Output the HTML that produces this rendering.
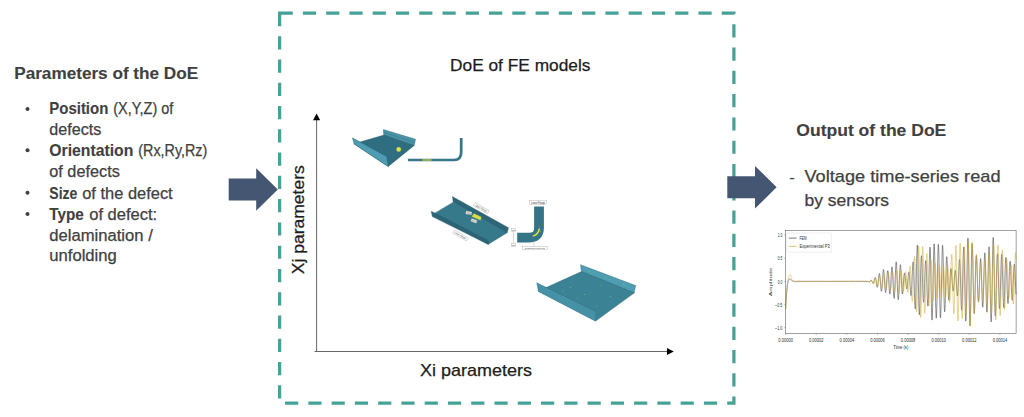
<!DOCTYPE html>
<html><head><meta charset="utf-8"><title>DoE of FE models</title>
<style>
html,body{margin:0;padding:0;background:#fff;}
body{width:1024px;height:417px;overflow:hidden;font-family:"Liberation Sans",sans-serif;}
svg{display:block}
text{font-family:"Liberation Sans",sans-serif;}
.t{fill:#404040}
.b{font-weight:bold}
</style></head><body>
<svg width="1024" height="417" viewBox="0 0 1024 417">
<rect width="1024" height="417" fill="#fff"/>
<path d="M279.6,13.2 H733.9 V403.1 H279.6 Z" fill="none" stroke="#45a395" stroke-width="3.25" stroke-dasharray="13.2 10.07"/>
<polygon points="228.7,178.4 256.2,178.4 256.2,168.2 277.8,189.5 256.2,210.8 256.2,200.5 228.7,200.5" fill="#455672"/>
<polygon points="727.3,176.2 755,176.2 755,165.9 776.6,187.25 755,208.6 755,198.3 727.3,198.3" fill="#455672"/>
<g stroke="#555" stroke-width="0.9" fill="none"><path d="M316.6,119 V351.5"/><path d="M314.5,351.5 H668"/></g>
<polygon points="316.6,113.4 313,120.2 320.2,120.2" fill="#000"/>
<polygon points="673.8,351.5 667,348 667,355" fill="#000"/>
<text x="14.2" y="79.0" font-size="17.4" fill="#404040" stroke="#404040" stroke-width="0.1" font-weight="bold" textLength="184" lengthAdjust="spacingAndGlyphs">Parameters of the DoE</text>
<text x="49.3" y="114.3" font-size="16.3" fill="#404040" stroke="#404040" stroke-width="0.1" font-weight="bold" textLength="59" lengthAdjust="spacingAndGlyphs">Position</text>
<text x="113.3" y="114.3" font-size="16.3" fill="#404040" stroke="#404040" stroke-width="0.25" textLength="60" lengthAdjust="spacingAndGlyphs">(X,Y,Z) of</text>
<text x="49.3" y="134.8" font-size="16.3" fill="#404040" stroke="#404040" stroke-width="0.25" textLength="52" lengthAdjust="spacingAndGlyphs">defects</text>
<text x="49.3" y="155.7" font-size="16.3" fill="#404040" stroke="#404040" stroke-width="0.1" font-weight="bold" textLength="84" lengthAdjust="spacingAndGlyphs">Orientation</text>
<text x="138.3" y="155.7" font-size="16.3" fill="#404040" stroke="#404040" stroke-width="0.25" textLength="69" lengthAdjust="spacingAndGlyphs">(Rx,Ry,Rz)</text>
<text x="49.3" y="176.7" font-size="16.3" fill="#404040" stroke="#404040" stroke-width="0.25" textLength="70.5" lengthAdjust="spacingAndGlyphs">of defects</text>
<text x="49.3" y="198.6" font-size="16.3" fill="#404040" stroke="#404040" stroke-width="0.1" font-weight="bold" textLength="28" lengthAdjust="spacingAndGlyphs">Size</text>
<text x="82.2" y="198.6" font-size="16.3" fill="#404040" stroke="#404040" stroke-width="0.25" textLength="90.5" lengthAdjust="spacingAndGlyphs">of the defect</text>
<text x="49.3" y="219.5" font-size="16.3" fill="#404040" stroke="#404040" stroke-width="0.1" font-weight="bold" textLength="34.5" lengthAdjust="spacingAndGlyphs">Type</text>
<text x="89.2" y="219.5" font-size="16.3" fill="#404040" stroke="#404040" stroke-width="0.25" textLength="68" lengthAdjust="spacingAndGlyphs">of defect:</text>
<text x="49.3" y="240.5" font-size="16.3" fill="#404040" stroke="#404040" stroke-width="0.25" textLength="103.5" lengthAdjust="spacingAndGlyphs">delamination /</text>
<text x="49.3" y="261" font-size="16.3" fill="#404040" stroke="#404040" stroke-width="0.25" textLength="67.5" lengthAdjust="spacingAndGlyphs">unfolding</text>
<circle cx="27.5" cy="108.9" r="2" fill="#404040"/>
<circle cx="27.5" cy="150.3" r="2" fill="#404040"/>
<circle cx="27.5" cy="192.7" r="2" fill="#404040"/>
<circle cx="27.5" cy="214" r="2" fill="#404040"/>
<text x="450" y="71.2" font-size="16.6" fill="#1c1c1c" stroke="#1c1c1c" stroke-width="0.25" textLength="140.5" lengthAdjust="spacingAndGlyphs">DoE of FE models</text>
<text x="420" y="375.8" font-size="16.6" fill="#1c1c1c" stroke="#1c1c1c" stroke-width="0.25" textLength="112" lengthAdjust="spacingAndGlyphs">Xi parameters</text>
<text x="0" y="0" font-size="16.6" fill="#1c1c1c" stroke="#1c1c1c" stroke-width="0.25" textLength="109" lengthAdjust="spacingAndGlyphs" transform="translate(303.5,274.2) rotate(-90)">Xj parameters</text>
<text x="796.3" y="135.5" font-size="17.2" fill="#404040" stroke="#404040" stroke-width="0.1" font-weight="bold" textLength="150" lengthAdjust="spacingAndGlyphs">Output of the DoE</text>
<text x="789.2" y="182.5" font-size="17" fill="#404040">-</text>
<text x="804.5" y="182.2" font-size="17" fill="#404040" stroke="#404040" stroke-width="0.25" textLength="196" lengthAdjust="spacingAndGlyphs">Voltage time-series read</text>
<text x="804.5" y="206.2" font-size="17" fill="#404040" stroke="#404040" stroke-width="0.25" textLength="84.5" lengthAdjust="spacingAndGlyphs">by sensors</text>
<g stroke="#245a6b" stroke-width="0.4" stroke-linejoin="round"><polygon points="383.3,129.5 383.9,135.2 414.2,145.6 415.5,139.2" fill="#4a94a9"/><polygon points="354,143.8 383.9,135 414.2,145.5 388.3,166.4" fill="#2e6e80"/><polygon points="352.4,137.8 354.1,143.9 386,165.2 388.3,166.4 386.8,156.6" fill="#4e9cb2"/></g>
<path d="M383.6,132.3 L414.9,142.6" stroke="#3f8397" stroke-width="1" fill="none"/>
<circle cx="398.7" cy="149.4" r="2.3" fill="#e2de48"/>
<path d="M408.0,160.0 H454.2 Q461.2,160.0 461.2,152.0 V138.0" fill="none" stroke="#357688" stroke-width="2.7"/>
<path d="M422.3,160.0 H431.5" stroke="#d8d24a" stroke-width="1.2"/>
<g stroke="#24586a" stroke-width="0.35" stroke-linejoin="round"><polygon points="452.4,196.5 508.5,227.7 507.1,233.1 453.2,202.2" fill="#2c6677"/><polygon points="432.6,214.4 453.2,202.2 507.1,232.8 488.4,244.3" fill="#36798b"/><polygon points="431.2,211.3 488.4,240.6 488.4,244.6 432.3,216.6" fill="#2b6475"/></g>
<polygon points="474,213.6 481.3,216.9 480.5,220.2 471.8,216.4" fill="#dedc48" stroke="#b9b83a" stroke-width="0.2"/>
<g transform="translate(481.2,208.1) rotate(30)"><rect x="-8.0" y="-1.8" width="16" height="3.6" fill="#fff" stroke="#888" stroke-width="0.3"/><text x="0" y="0.94" font-size="2.6" text-anchor="middle" fill="#333" textLength="12.8" lengthAdjust="spacingAndGlyphs">Upper Flange</text></g>
<g transform="translate(460.5,235.4) rotate(30)"><rect x="-8.0" y="-1.8" width="16" height="3.6" fill="#fff" stroke="#888" stroke-width="0.3"/><text x="0" y="0.94" font-size="2.6" text-anchor="middle" fill="#333" textLength="12.8" lengthAdjust="spacingAndGlyphs">Lower Flange</text></g>
<g transform="translate(468.8,212.9) rotate(8)"><rect x="-2.9" y="-1.4" width="5.8" height="2.9" fill="#fff" stroke="#888" stroke-width="0.3"/><text x="0" y="0.83" font-size="2.3" text-anchor="middle" fill="#333" textLength="4.6" lengthAdjust="spacingAndGlyphs">Web</text></g>
<g transform="translate(474.0,220.9) rotate(20)"><rect x="-2.9" y="-1.4" width="5.8" height="2.9" fill="#fff" stroke="#888" stroke-width="0.3"/><text x="0" y="0.83" font-size="2.3" text-anchor="middle" fill="#333" textLength="4.6" lengthAdjust="spacingAndGlyphs">Web</text></g>
<path d="M539.0,206.4 V228.0 Q539.0,237.7 528.7,237.7 H517.2" fill="none" stroke="#347486" stroke-width="9.8"/>
<path d="M539.2,229.1 Q538.4,234.0 533.5,235.9" fill="none" stroke="#e3e044" stroke-width="1.5" stroke-linecap="round"/>
<circle cx="539.5" cy="226.5" r="0.35" fill="#e3e044"/><circle cx="540.4" cy="231.1" r="0.4" fill="#e3e044"/>
<g transform="translate(538.1,202.6) rotate(0)"><rect x="-8.6" y="-2.2" width="17.2" height="4.4" fill="#fff" stroke="#888" stroke-width="0.3"/><text x="0" y="0.97" font-size="2.7" text-anchor="middle" fill="#333" textLength="13.8" lengthAdjust="spacingAndGlyphs">Lower Flange</text></g>
<g transform="translate(513.6,230.1) rotate(0)"><rect x="-2.2" y="-1.5" width="4.4" height="3" fill="#fff" stroke="#888" stroke-width="0.3"/><text x="0" y="0.76" font-size="2.1" text-anchor="middle" fill="#333" textLength="3.5" lengthAdjust="spacingAndGlyphs">Web</text></g>
<g transform="translate(513.6,245.1) rotate(0)"><rect x="-2.2" y="-1.5" width="4.4" height="3" fill="#fff" stroke="#888" stroke-width="0.3"/><text x="0" y="0.76" font-size="2.1" text-anchor="middle" fill="#333" textLength="3.5" lengthAdjust="spacingAndGlyphs">Web</text></g>
<g transform="translate(534.9,248.0) rotate(0)"><rect x="-12.5" y="-1.6" width="25" height="3.2" fill="#fff" stroke="#888" stroke-width="0.3"/><text x="0" y="0.76" font-size="2.1" text-anchor="middle" fill="#333" textLength="20.0" lengthAdjust="spacingAndGlyphs">Delamination length in mm</text></g>
<path d="M513.6,231.7 V243.5" stroke="#777" stroke-width="0.3"/>
<path d="M533.8,242.6 V246.4" stroke="#777" stroke-width="0.3"/>
<g stroke="#2c6678" stroke-width="0.4" stroke-linejoin="round"><polygon points="580.5,264.7 581.5,272.0 634.0,293.2 635.7,285.6" fill="#4e9db0"/><polygon points="538.4,291.0 581.5,271.6 634.4,292.8 596.0,320.8" fill="#3b8295"/><polygon points="536.8,282.8 538.4,291.5 595.6,321.3 596.0,311.5" fill="#4592a6"/></g>
<circle cx="589.1" cy="271.2" r="0.45" fill="#cfd27a"/><circle cx="605.3" cy="277.6" r="0.45" fill="#cfd27a"/><circle cx="623.2" cy="284.1" r="0.45" fill="#cfd27a"/><circle cx="570.7" cy="287.8" r="0.45" fill="#cfd27a"/><circle cx="584.8" cy="294.3" r="0.45" fill="#cfd27a"/><circle cx="601.0" cy="285.6" r="0.45" fill="#cfd27a"/><circle cx="610.7" cy="296.4" r="0.45" fill="#cfd27a"/><circle cx="596.7" cy="306.6" r="0.45" fill="#cfd27a"/><circle cx="577.2" cy="297.9" r="0.45" fill="#cfd27a"/><circle cx="563.2" cy="291.0" r="0.45" fill="#cfd27a"/>
<rect x="785.6" y="230.4" width="230.5" height="103.3" fill="#fff" stroke="#555" stroke-width="0.55"/>
<path d="M785.6,333.7 v1.3 M816.2,333.7 v1.3 M846.8,333.7 v1.3 M877.5,333.7 v1.3 M908.1,333.7 v1.3 M938.7,333.7 v1.3 M969.3,333.7 v1.3 M999.9,333.7 v1.3 M785.6,235.1 h-1.3 M785.6,258.3 h-1.3 M785.6,281.4 h-1.3 M785.6,304.5 h-1.3 M785.6,327.6 h-1.3" stroke="#444" stroke-width="0.35" fill="none"/>
<g><text x="778.30" y="341.70" font-size="6.0" fill="#2e2e2e" textLength="14.6" lengthAdjust="spacingAndGlyphs">0.00000</text><text x="808.92" y="341.70" font-size="6.0" fill="#2e2e2e" textLength="14.6" lengthAdjust="spacingAndGlyphs">0.00002</text><text x="839.54" y="341.70" font-size="6.0" fill="#2e2e2e" textLength="14.6" lengthAdjust="spacingAndGlyphs">0.00004</text><text x="870.16" y="341.70" font-size="6.0" fill="#2e2e2e" textLength="14.6" lengthAdjust="spacingAndGlyphs">0.00006</text><text x="900.78" y="341.70" font-size="6.0" fill="#2e2e2e" textLength="14.6" lengthAdjust="spacingAndGlyphs">0.00008</text><text x="931.40" y="341.70" font-size="6.0" fill="#2e2e2e" textLength="14.6" lengthAdjust="spacingAndGlyphs">0.00010</text><text x="962.02" y="341.70" font-size="6.0" fill="#2e2e2e" textLength="14.6" lengthAdjust="spacingAndGlyphs">0.00012</text><text x="992.64" y="341.70" font-size="6.0" fill="#2e2e2e" textLength="14.6" lengthAdjust="spacingAndGlyphs">0.00014</text><text x="777.70" y="237.25" font-size="6.0" fill="#2e2e2e" textLength="4.6" lengthAdjust="spacingAndGlyphs">1.0</text><text x="777.70" y="260.38" font-size="6.0" fill="#2e2e2e" textLength="4.6" lengthAdjust="spacingAndGlyphs">0.5</text><text x="777.70" y="283.50" font-size="6.0" fill="#2e2e2e" textLength="4.6" lengthAdjust="spacingAndGlyphs">0.0</text><text x="775.10" y="306.62" font-size="6.0" fill="#2e2e2e" textLength="7.2" lengthAdjust="spacingAndGlyphs">−0.5</text><text x="775.10" y="329.75" font-size="6.0" fill="#2e2e2e" textLength="7.2" lengthAdjust="spacingAndGlyphs">−1.0</text><text x="893.30" y="349.20" font-size="6.0" fill="#2e2e2e" textLength="15" lengthAdjust="spacingAndGlyphs">Time (s)</text><text x="-14.1" y="0" font-size="5.6" fill="#2e2e2e" textLength="28.2" lengthAdjust="spacingAndGlyphs" transform="translate(772.1,281.9) scale(0.64,1) rotate(-90)">Amplitude</text></g>
<path d="M785.6,309.1 L785.8,305.7 L786.0,302.4 L786.2,299.2 L786.4,296.3 L786.6,293.6 L786.8,291.2 L787.0,289.1 L787.2,287.2 L787.4,285.5 L787.6,284.1 L787.8,282.9 L788.0,281.9 L788.2,281.1 L788.4,280.4 L788.6,279.9 L788.8,279.5 L789.0,279.2 L789.2,279.0 L789.4,278.9 L789.6,278.9 L789.8,278.9 L790.0,279.0 L790.2,279.1 L790.4,279.2 L790.6,279.4 L790.8,279.6 L791.0,279.8 L791.2,280.0 L791.4,280.1 L791.6,280.3 L791.8,280.5 L792.0,280.6 L792.2,280.8 L792.4,280.9 L792.6,281.0 L792.8,281.1 L793.0,281.2 L793.2,281.3 L793.4,281.3 L793.6,281.4 L793.8,281.4 L794.0,281.4 L794.2,281.4 L794.4,281.4 L794.6,281.4 L794.8,281.5 L795.0,281.5 L795.2,281.5 L795.4,281.5 L795.6,281.4 L795.8,281.4 L796.0,281.4 L796.2,281.4 L796.4,281.4 L796.6,281.4 L796.8,281.4 L797.0,281.4 L797.2,281.4 L797.4,281.4 L797.6,281.4 L797.8,281.4 L798.0,281.4 L798.2,281.4 L798.4,281.4 L798.6,281.4 L798.8,281.4 L799.0,281.4 L799.2,281.4 L799.4,281.4 L799.6,281.4 L799.8,281.4 L800.0,281.4 L800.2,281.4 L800.4,281.4 L800.6,281.4 L800.8,281.4 L801.0,281.4 L801.2,281.4 L801.4,281.4 L801.6,281.4 L801.8,281.4 L802.0,281.4 L802.2,281.4 L802.4,281.4 L802.6,281.4 L802.8,281.4 L803.0,281.4 L803.2,281.4 L803.4,281.4 L803.6,281.4 L803.8,281.4 L804.0,281.4 L804.2,281.4 L804.4,281.4 L804.6,281.4 L804.8,281.4 L805.0,281.4 L805.2,281.4 L805.4,281.4 L805.6,281.4 L805.8,281.4 L806.0,281.4 L806.2,281.4 L806.4,281.4 L806.6,281.4 L806.8,281.4 L807.0,281.4 L807.2,281.4 L807.4,281.4 L807.6,281.4 L807.8,281.4 L808.0,281.4 L808.2,281.4 L808.4,281.4 L808.6,281.4 L808.8,281.4 L809.0,281.4 L809.2,281.4 L809.4,281.4 L809.6,281.4 L809.8,281.4 L810.0,281.4 L810.2,281.4 L810.4,281.4 L810.6,281.4 L810.8,281.4 L811.0,281.4 L811.2,281.4 L811.4,281.4 L811.6,281.4 L811.8,281.4 L812.0,281.4 L812.2,281.4 L812.4,281.4 L812.6,281.4 L812.8,281.4 L813.0,281.4 L813.2,281.4 L813.4,281.4 L813.6,281.4 L813.8,281.4 L814.0,281.4 L814.2,281.4 L814.4,281.4 L814.6,281.4 L814.8,281.4 L815.0,281.4 L815.2,281.4 L815.4,281.4 L815.6,281.4 L815.8,281.4 L816.0,281.4 L816.2,281.4 L816.4,281.4 L816.6,281.4 L816.8,281.4 L817.0,281.4 L817.2,281.4 L817.4,281.4 L817.6,281.4 L817.8,281.4 L818.0,281.4 L818.2,281.4 L818.4,281.4 L818.6,281.4 L818.8,281.4 L819.0,281.4 L819.2,281.4 L819.4,281.4 L819.6,281.4 L819.8,281.4 L820.0,281.4 L820.2,281.4 L820.4,281.4 L820.6,281.4 L820.8,281.4 L821.0,281.4 L821.2,281.4 L821.4,281.4 L821.6,281.4 L821.8,281.4 L822.0,281.4 L822.2,281.4 L822.4,281.4 L822.6,281.4 L822.8,281.4 L823.0,281.4 L823.2,281.4 L823.4,281.4 L823.6,281.4 L823.8,281.4 L824.0,281.4 L824.2,281.4 L824.4,281.4 L824.6,281.4 L824.8,281.4 L825.0,281.4 L825.2,281.4 L825.4,281.4 L825.6,281.4 L825.8,281.4 L826.0,281.4 L826.2,281.4 L826.4,281.4 L826.6,281.4 L826.8,281.4 L827.0,281.4 L827.2,281.4 L827.4,281.4 L827.6,281.4 L827.8,281.4 L828.0,281.4 L828.2,281.4 L828.4,281.4 L828.6,281.4 L828.8,281.4 L829.0,281.4 L829.2,281.4 L829.4,281.4 L829.6,281.4 L829.8,281.4 L830.0,281.4 L830.2,281.4 L830.4,281.4 L830.6,281.4 L830.8,281.4 L831.0,281.4 L831.2,281.4 L831.4,281.4 L831.6,281.4 L831.8,281.4 L832.0,281.4 L832.2,281.4 L832.4,281.4 L832.6,281.4 L832.8,281.4 L833.0,281.4 L833.2,281.4 L833.4,281.4 L833.6,281.4 L833.8,281.4 L834.0,281.4 L834.2,281.4 L834.4,281.4 L834.6,281.4 L834.8,281.4 L835.0,281.4 L835.2,281.4 L835.4,281.4 L835.6,281.4 L835.8,281.4 L836.0,281.4 L836.2,281.4 L836.4,281.4 L836.6,281.4 L836.8,281.4 L837.0,281.4 L837.2,281.4 L837.4,281.4 L837.6,281.4 L837.8,281.4 L838.0,281.4 L838.2,281.4 L838.4,281.4 L838.6,281.4 L838.8,281.4 L839.0,281.4 L839.2,281.4 L839.4,281.4 L839.6,281.4 L839.8,281.4 L840.0,281.4 L840.2,281.4 L840.4,281.4 L840.6,281.4 L840.8,281.4 L841.0,281.4 L841.2,281.4 L841.4,281.4 L841.6,281.4 L841.8,281.4 L842.0,281.4 L842.2,281.4 L842.4,281.4 L842.6,281.4 L842.8,281.4 L843.0,281.4 L843.2,281.4 L843.4,281.4 L843.6,281.4 L843.8,281.4 L844.0,281.4 L844.2,281.4 L844.4,281.4 L844.6,281.4 L844.8,281.4 L845.0,281.4 L845.2,281.4 L845.4,281.4 L845.6,281.4 L845.8,281.4 L846.0,281.4 L846.2,281.4 L846.4,281.4 L846.6,281.4 L846.8,281.4 L847.0,281.4 L847.2,281.4 L847.4,281.4 L847.6,281.4 L847.8,281.4 L848.0,281.4 L848.2,281.4 L848.4,281.4 L848.6,281.4 L848.8,281.4 L849.0,281.4 L849.2,281.4 L849.4,281.4 L849.6,281.4 L849.8,281.4 L850.0,281.4 L850.2,281.4 L850.4,281.4 L850.6,281.4 L850.8,281.4 L851.0,281.4 L851.2,281.4 L851.4,281.4 L851.6,281.4 L851.8,281.4 L852.0,281.4 L852.2,281.4 L852.4,281.4 L852.6,281.4 L852.8,281.4 L853.0,281.4 L853.2,281.4 L853.4,281.4 L853.6,281.4 L853.8,281.4 L854.0,281.4 L854.2,281.4 L854.4,281.4 L854.6,281.4 L854.8,281.4 L855.0,281.4 L855.2,281.4 L855.4,281.4 L855.6,281.4 L855.8,281.4 L856.0,281.4 L856.2,281.4 L856.4,281.4 L856.6,281.4 L856.8,281.4 L857.0,281.4 L857.2,281.4 L857.4,281.4 L857.6,281.4 L857.8,281.4 L858.0,281.4 L858.2,281.4 L858.4,281.4 L858.6,281.4 L858.8,281.4 L859.0,281.4 L859.2,281.4 L859.4,281.4 L859.6,281.4 L859.8,281.4 L860.0,281.4 L860.2,281.4 L860.4,281.4 L860.6,281.4 L860.8,281.4 L861.0,281.4 L861.2,281.4 L861.4,281.4 L861.6,281.4 L861.8,281.4 L862.0,281.4 L862.2,281.4 L862.4,281.4 L862.6,281.4 L862.8,281.4 L863.0,281.4 L863.2,281.4 L863.4,281.4 L863.6,281.4 L863.8,281.4 L864.0,281.4 L864.2,281.4 L864.4,281.4 L864.6,281.4 L864.8,281.4 L865.0,281.4 L865.2,281.4 L865.4,281.4 L865.6,281.4 L865.8,281.4 L866.0,281.4 L866.2,281.4 L866.4,281.4 L866.6,281.4 L866.8,281.4 L867.0,281.4 L867.2,281.4 L867.4,281.4 L867.6,281.4 L867.8,281.4 L868.0,281.4 L868.2,281.5 L868.4,281.5 L868.6,281.6 L868.8,281.7 L869.0,281.7 L869.2,281.7 L869.4,281.7 L869.6,281.6 L869.8,281.4 L870.0,281.2 L870.2,280.9 L870.4,280.7 L870.6,280.5 L870.8,280.4 L871.0,280.3 L871.2,280.4 L871.4,280.5 L871.6,280.8 L871.8,281.2 L872.0,281.6 L872.2,282.0 L872.4,282.5 L872.6,282.9 L872.8,283.1 L873.0,283.2 L873.2,283.3 L873.4,283.2 L873.6,282.8 L873.8,282.3 L874.0,281.5 L874.2,280.6 L874.4,279.7 L874.6,278.8 L874.8,278.1 L875.0,277.7 L875.2,277.5 L875.4,277.7 L875.6,278.3 L875.8,279.2 L876.0,280.5 L876.2,281.9 L876.4,283.4 L876.6,284.8 L876.8,286.0 L877.0,286.8 L877.2,287.3 L877.4,287.2 L877.6,286.5 L877.8,285.4 L878.0,283.8 L878.2,281.9 L878.4,279.8 L878.6,277.8 L878.8,276.0 L879.0,274.6 L879.2,273.7 L879.4,273.5 L879.6,274.0 L879.8,275.2 L880.0,277.1 L880.2,279.4 L880.4,282.0 L880.6,284.7 L880.8,287.2 L881.0,289.3 L881.2,290.7 L881.4,291.4 L881.6,291.2 L881.8,290.1 L882.0,288.2 L882.2,285.6 L882.4,282.5 L882.6,279.2 L882.8,275.9 L883.0,273.1 L883.2,270.9 L883.4,269.6 L883.6,269.5 L883.8,270.5 L884.0,272.5 L884.2,275.2 L884.4,278.4 L884.6,281.8 L884.8,285.2 L885.0,288.2 L885.2,290.6 L885.4,292.1 L885.6,292.7 L885.8,292.3 L886.0,290.9 L886.2,288.7 L886.4,285.9 L886.6,282.8 L886.8,279.5 L887.0,276.5 L887.2,273.9 L887.4,272.0 L887.6,271.0 L887.8,270.6 L888.0,271.2 L888.2,272.7 L888.4,275.1 L888.6,278.1 L888.8,281.5 L889.0,285.0 L889.2,288.3 L889.4,291.0 L889.6,293.0 L889.8,294.0 L890.0,293.9 L890.2,292.7 L890.4,290.4 L890.6,287.3 L890.8,283.5 L891.0,279.5 L891.2,275.5 L891.4,271.9 L891.6,269.1 L891.8,267.4 L892.0,266.8 L892.2,267.5 L892.4,269.5 L892.6,272.5 L892.8,276.5 L893.0,281.0 L893.2,285.8 L893.4,290.2 L893.6,294.0 L893.8,296.8 L894.0,298.3 L894.2,298.3 L894.4,296.8 L894.6,293.9 L894.8,289.8 L895.0,284.8 L895.2,279.3 L895.4,274.0 L895.6,269.1 L895.8,265.2 L896.0,262.7 L896.2,261.8 L896.4,262.6 L896.6,265.4 L896.8,269.6 L897.0,274.7 L897.2,280.4 L897.4,286.0 L897.6,291.2 L897.8,295.4 L898.0,298.3 L898.2,299.7 L898.4,299.5 L898.6,297.7 L898.8,294.4 L899.0,290.2 L899.2,285.2 L899.4,280.0 L899.6,275.0 L899.8,270.6 L900.0,267.3 L900.2,265.3 L900.4,264.7 L900.6,265.7 L900.8,268.1 L901.0,271.6 L901.2,275.8 L901.4,280.2 L901.6,284.5 L901.8,288.3 L902.0,291.3 L902.2,293.2 L902.4,294.0 L902.6,293.7 L902.8,292.3 L903.0,290.0 L903.2,287.2 L903.4,284.0 L903.6,280.9 L903.8,278.0 L904.0,275.7 L904.2,274.0 L904.4,273.1 L904.6,273.1 L904.8,273.8 L905.0,275.1 L905.2,276.8 L905.4,278.7 L905.6,280.7 L905.8,282.6 L906.0,284.6 L906.2,286.4 L906.4,287.7 L906.6,288.6 L906.8,288.9 L907.0,288.5 L907.2,287.4 L907.4,285.7 L907.6,283.6 L907.8,281.2 L908.0,278.7 L908.2,276.4 L908.4,274.4 L908.6,273.0 L908.8,272.3 L909.0,272.4 L909.2,273.0 L909.4,274.5 L909.6,276.8 L909.8,279.8 L910.0,283.2 L910.2,286.8 L910.4,290.2 L910.6,293.0 L910.8,294.9 L911.0,295.7 L911.2,295.3 L911.4,293.5 L911.6,290.4 L911.8,286.3 L912.0,281.5 L912.2,276.4 L912.4,271.4 L912.6,267.1 L912.8,263.8 L913.0,262.0 L913.2,261.8 L913.4,263.5 L913.6,266.8 L913.8,271.6 L914.0,277.6 L914.2,284.3 L914.4,291.4 L914.6,298.0 L914.8,303.4 L915.0,307.3 L915.2,308.9 L915.4,308.1 L915.6,304.8 L915.8,299.2 L916.0,291.6 L916.2,282.6 L916.4,273.0 L916.6,263.7 L916.8,255.5 L917.0,249.3 L917.2,245.7 L917.4,245.2 L917.6,248.0 L917.8,253.9 L918.0,263.0 L918.2,273.9 L918.4,285.0 L918.6,295.3 L918.8,304.1 L919.0,310.5 L919.2,314.1 L919.4,314.7 L919.6,312.4 L919.8,307.5 L920.0,300.5 L920.2,292.2 L920.4,283.4 L920.6,274.8 L920.8,267.2 L921.0,261.2 L921.2,257.3 L921.4,255.7 L921.6,256.4 L921.8,259.3 L922.0,263.9 L922.2,269.8 L922.4,276.3 L922.6,282.8 L922.8,288.8 L923.0,294.2 L923.2,298.5 L923.4,301.2 L923.6,302.2 L923.8,301.4 L924.0,298.8 L924.2,294.7 L924.4,289.4 L924.6,283.4 L924.8,277.2 L925.0,271.4 L925.2,266.5 L925.4,262.9 L925.6,260.9 L925.8,260.7 L926.0,262.4 L926.2,265.7 L926.4,270.4 L926.6,276.0 L926.8,282.2 L927.0,288.2 L927.2,294.2 L927.4,299.5 L927.6,303.6 L927.8,305.8 L928.0,305.9 L928.2,303.7 L928.4,299.3 L928.6,292.9 L928.8,285.1 L929.0,276.3 L929.2,267.5 L929.4,259.4 L929.6,252.9 L929.8,248.7 L930.0,247.2 L930.2,248.8 L930.4,253.4 L930.6,260.8 L930.8,270.5 L931.0,281.7 L931.2,293.2 L931.4,303.6 L931.6,312.0 L931.8,317.7 L932.0,320.1 L932.2,319.1 L932.4,314.9 L932.6,307.7 L932.8,298.2 L933.0,287.4 L933.2,276.0 L933.4,265.2 L933.6,255.9 L933.8,248.9 L934.0,244.8 L934.2,243.9 L934.4,246.3 L934.6,251.8 L934.8,259.8 L935.0,269.7 L935.2,280.6 L935.4,291.5 L935.6,301.5 L935.8,309.7 L936.0,315.5 L936.2,318.2 L936.4,317.7 L936.6,314.0 L936.8,307.5 L937.0,298.6 L937.2,288.2 L937.4,277.3 L937.6,266.7 L937.8,257.4 L938.0,250.2 L938.2,245.7 L938.4,244.4 L938.6,246.4 L938.8,251.4 L939.0,259.1 L939.2,268.7 L939.4,279.5 L939.6,290.4 L939.8,300.5 L940.0,308.9 L940.2,314.8 L940.4,317.8 L940.6,317.6 L940.8,314.2 L941.0,307.9 L941.2,299.3 L941.4,289.2 L941.6,278.4 L941.8,267.9 L942.0,258.7 L942.2,251.4 L942.4,246.8 L942.6,245.3 L942.8,247.2 L943.0,252.2 L943.2,259.7 L943.4,268.7 L943.6,278.7 L943.8,288.5 L944.0,297.4 L944.2,304.6 L944.4,309.5 L944.6,311.8 L944.8,311.4 L945.0,308.4 L945.2,303.2 L945.4,296.2 L945.6,288.2 L945.8,280.0 L946.0,272.2 L946.2,265.5 L946.4,260.4 L946.6,257.4 L946.8,256.6 L947.0,258.0 L947.2,261.4 L947.4,266.4 L947.6,272.4 L947.8,278.9 L948.0,285.4 L948.2,291.1 L948.4,295.7 L948.6,298.8 L948.8,300.2 L949.0,299.9 L949.2,298.0 L949.4,294.8 L949.6,290.6 L949.8,285.8 L950.0,281.0 L950.2,276.6 L950.4,272.9 L950.6,270.2 L950.8,268.8 L951.0,268.5 L951.2,269.4 L951.4,271.3 L951.6,273.9 L951.8,276.9 L952.0,280.0 L952.2,282.9 L952.4,285.5 L952.6,287.8 L952.8,289.7 L953.0,290.8 L953.2,291.1 L953.4,290.6 L953.6,289.2 L953.8,287.1 L954.0,284.5 L954.2,281.5 L954.4,278.4 L954.6,275.6 L954.8,273.2 L955.0,271.5 L955.2,270.6 L955.4,270.7 L955.6,271.7 L955.8,273.6 L956.0,276.3 L956.2,279.5 L956.4,282.9 L956.6,286.3 L956.8,289.7 L957.0,292.7 L957.2,294.9 L957.4,296.0 L957.6,295.9 L957.8,294.3 L958.0,291.3 L958.2,287.1 L958.4,282.1 L958.6,276.6 L958.8,271.1 L959.0,266.2 L959.2,262.3 L959.4,260.0 L959.6,259.5 L959.8,261.0 L960.0,264.5 L960.2,269.8 L960.4,276.4 L960.6,283.9 L960.8,291.5 L961.0,298.7 L961.2,304.6 L961.4,308.6 L961.6,310.2 L961.8,309.4 L962.0,305.9 L962.2,300.1 L962.4,292.5 L962.6,283.5 L962.8,274.1 L963.0,264.9 L963.2,257.0 L963.4,251.0 L963.6,247.5 L963.8,247.0 L964.0,249.5 L964.2,255.0 L964.4,263.0 L964.6,272.9 L964.8,283.9 L965.0,295.0 L965.2,305.1 L965.4,313.4 L965.6,318.9 L965.8,321.1 L966.0,319.9 L966.2,315.2 L966.4,307.5 L966.6,297.2 L966.8,285.4 L967.0,273.0 L967.2,261.2 L967.4,250.9 L967.6,243.2 L967.8,238.7 L968.0,238.0 L968.2,241.1 L968.4,247.8 L968.6,257.7 L968.8,269.8 L969.0,283.1 L969.2,296.5 L969.4,308.8 L969.6,318.0 L969.8,323.8 L970.0,325.8 L970.2,323.9 L970.4,318.3 L970.6,309.6 L970.8,298.7 L971.0,286.6 L971.2,274.4 L971.4,263.2 L971.6,253.8 L971.8,247.2 L972.0,243.7 L972.2,243.6 L972.4,246.8 L972.6,252.9 L972.8,261.3 L973.0,271.2 L973.2,281.7 L973.4,291.7 L973.6,300.5 L973.8,307.4 L974.0,311.8 L974.2,313.4 L974.4,312.1 L974.6,308.2 L974.8,302.1 L975.0,294.5 L975.2,286.0 L975.4,277.4 L975.6,269.5 L975.8,262.9 L976.0,258.2 L976.2,255.7 L976.4,255.6 L976.6,257.7 L976.8,261.8 L977.0,267.4 L977.2,274.0 L977.4,280.9 L977.6,287.5 L977.8,293.3 L978.0,297.7 L978.2,300.5 L978.4,301.5 L978.6,301.1 L978.8,299.3 L979.0,295.9 L979.2,291.1 L979.4,285.3 L979.6,279.0 L979.8,272.7 L980.0,267.1 L980.2,262.6 L980.4,259.6 L980.6,258.5 L980.8,259.5 L981.0,262.4 L981.2,267.1 L981.4,273.2 L981.6,280.1 L981.8,287.4 L982.0,294.3 L982.2,300.2 L982.4,304.5 L982.6,306.9 L982.8,307.1 L983.0,305.0 L983.2,300.7 L983.4,294.6 L983.6,287.2 L983.8,279.2 L984.0,271.1 L984.2,263.9 L984.4,258.1 L984.6,254.2 L984.8,252.8 L985.0,253.8 L985.2,257.3 L985.4,263.0 L985.6,270.5 L985.8,279.0 L986.0,287.8 L986.2,296.2 L986.4,303.4 L986.6,308.8 L986.8,311.8 L987.0,312.2 L987.2,309.8 L987.4,304.9 L987.6,297.8 L987.8,289.2 L988.0,279.7 L988.2,270.3 L988.4,261.5 L988.6,254.3 L988.8,249.2 L989.0,246.8 L989.2,247.5 L989.4,251.3 L989.6,257.9 L989.8,266.8 L990.0,277.2 L990.2,288.4 L990.4,299.3 L990.6,308.9 L990.8,316.3 L991.0,320.7 L991.2,321.8 L991.4,319.3 L991.6,313.3 L991.8,304.3 L992.0,293.1 L992.2,280.4 L992.4,267.6 L992.6,255.6 L992.8,245.7 L993.0,239.3 L993.2,237.4 L993.4,239.4 L993.6,245.0 L993.8,253.5 L994.0,264.1 L994.2,275.8 L994.4,287.5 L994.6,298.1 L994.8,306.8 L995.0,312.9 L995.2,316.0 L995.4,315.9 L995.6,312.8 L995.8,307.2 L996.0,299.6 L996.2,290.8 L996.4,281.6 L996.6,273.0 L996.8,265.5 L997.0,259.9 L997.2,255.7 L997.4,253.8 L997.6,254.3 L997.8,257.2 L998.0,262.2 L998.2,268.9 L998.4,276.7 L998.6,284.9 L998.8,292.7 L999.0,299.5 L999.2,304.8 L999.4,307.9 L999.6,308.7 L999.8,307.2 L1000.0,303.3 L1000.2,297.5 L1000.4,290.4 L1000.6,282.4 L1000.8,274.4 L1001.0,267.0 L1001.2,260.9 L1001.4,256.6 L1001.6,254.5 L1001.8,254.8 L1002.0,257.4 L1002.2,262.1 L1002.4,268.5 L1002.6,276.0 L1002.8,284.0 L1003.0,291.7 L1003.2,298.5 L1003.4,303.7 L1003.6,306.9 L1003.8,307.7 L1004.0,306.3 L1004.2,302.6 L1004.4,297.2 L1004.6,290.5 L1004.8,283.1 L1005.0,275.7 L1005.2,268.8 L1005.4,263.2 L1005.6,259.3 L1005.8,257.4 L1006.0,257.6 L1006.2,259.8 L1006.4,264.0 L1006.6,269.6 L1006.8,276.1 L1007.0,282.9 L1007.2,289.6 L1007.4,295.4 L1007.6,299.8 L1007.8,302.6 L1008.0,303.5 L1008.2,302.4 L1008.4,299.5 L1008.6,295.1 L1008.8,289.6 L1009.0,283.4 L1009.2,277.2 L1009.4,271.4 L1009.6,266.6 L1009.8,263.1 L1010.0,261.3 L1010.2,261.2 L1010.4,262.9 L1010.6,266.3 L1010.8,270.9 L1011.0,276.3 L1011.2,282.1 L1011.4,287.8 L1011.6,292.9 L1011.8,296.8 L1012.0,299.4 L1012.2,300.3 L1012.4,299.6 L1012.6,297.3 L1012.8,293.7 L1013.0,289.0 L1013.2,283.7 L1013.4,278.3 L1013.6,273.3 L1013.8,269.0 L1014.0,265.9 L1014.2,264.2 L1014.4,264.0 L1014.6,265.4 L1014.8,268.1 L1015.0,271.9 L1015.2,276.5 L1015.4,281.5 L1015.6,286.4 L1015.8,290.9 L1016.0,294.4" fill="none" stroke="#3a3a3a" stroke-width="0.55" stroke-linejoin="round"/>
<path d="M785.6,309.2 L785.8,305.9 L786.0,302.7 L786.2,299.5 L786.4,296.4 L786.6,293.5 L786.8,290.7 L787.0,288.1 L787.2,285.8 L787.4,283.8 L787.6,282.0 L787.8,280.6 L788.0,279.4 L788.2,278.4 L788.4,277.7 L788.6,277.0 L788.8,276.5 L789.0,276.1 L789.2,275.7 L789.4,275.4 L789.6,275.1 L789.8,274.8 L790.0,274.7 L790.2,274.7 L790.4,274.9 L790.6,275.2 L790.8,275.7 L791.0,276.3 L791.2,277.0 L791.4,277.7 L791.6,278.4 L791.8,279.1 L792.0,279.7 L792.2,280.1 L792.4,280.4 L792.6,280.5 L792.8,280.6 L793.0,280.6 L793.2,280.5 L793.4,280.5 L793.6,280.6 L793.8,280.7 L794.0,280.9 L794.2,281.2 L794.4,281.4 L794.6,281.7 L794.8,281.9 L795.0,282.0 L795.2,282.0 L795.4,281.9 L795.6,281.7 L795.8,281.5 L796.0,281.3 L796.2,281.1 L796.4,280.9 L796.6,280.9 L796.8,280.9 L797.0,281.0 L797.2,281.2 L797.4,281.5 L797.6,281.7 L797.8,281.8 L798.0,281.9 L798.2,282.0 L798.4,281.9 L798.6,281.7 L798.8,281.5 L799.0,281.2 L799.2,281.0 L799.4,280.9 L799.6,280.8 L799.8,280.9 L800.0,281.0 L800.2,281.2 L800.4,281.4 L800.6,281.7 L800.8,281.8 L801.0,281.9 L801.2,281.9 L801.4,281.9 L801.6,281.7 L801.8,281.5 L802.0,281.2 L802.2,281.0 L802.4,280.9 L802.6,280.8 L802.8,280.9 L803.0,281.0 L803.2,281.2 L803.4,281.5 L803.6,281.7 L803.8,281.8 L804.0,281.9 L804.2,281.9 L804.4,281.8 L804.6,281.7 L804.8,281.5 L805.0,281.2 L805.2,281.0 L805.4,280.9 L805.6,280.8 L805.8,280.9 L806.0,281.0 L806.2,281.2 L806.4,281.5 L806.6,281.7 L806.8,281.9 L807.0,281.9 L807.2,281.9 L807.4,281.8 L807.6,281.7 L807.8,281.4 L808.0,281.2 L808.2,281.0 L808.4,280.9 L808.6,280.8 L808.8,280.9 L809.0,281.0 L809.2,281.2 L809.4,281.5 L809.6,281.7 L809.8,281.9 L810.0,281.9 L810.2,281.9 L810.4,281.8 L810.6,281.7 L810.8,281.4 L811.0,281.2 L811.2,281.0 L811.4,280.9 L811.6,280.8 L811.8,280.9 L812.0,281.0 L812.2,281.3 L812.4,281.5 L812.6,281.7 L812.8,281.9 L813.0,281.9 L813.2,281.9 L813.4,281.8 L813.6,281.6 L813.8,281.4 L814.0,281.2 L814.2,281.0 L814.4,280.9 L814.6,280.8 L814.8,280.9 L815.0,281.1 L815.2,281.3 L815.4,281.5 L815.6,281.7 L815.8,281.9 L816.0,281.9 L816.2,281.9 L816.4,281.8 L816.6,281.6 L816.8,281.4 L817.0,281.2 L817.2,281.0 L817.4,280.9 L817.6,280.8 L817.8,280.9 L818.0,281.1 L818.2,281.3 L818.4,281.5 L818.6,281.7 L818.8,281.9 L819.0,282.0 L819.2,281.9 L819.4,281.8 L819.6,281.6 L819.8,281.4 L820.0,281.2 L820.2,281.0 L820.4,280.9 L820.6,280.8 L820.8,280.9 L821.0,281.1 L821.2,281.3 L821.4,281.5 L821.6,281.7 L821.8,281.9 L822.0,282.0 L822.2,281.9 L822.4,281.8 L822.6,281.6 L822.8,281.4 L823.0,281.2 L823.2,281.0 L823.4,280.9 L823.6,280.8 L823.8,280.9 L824.0,281.1 L824.2,281.3 L824.4,281.5 L824.6,281.7 L824.8,281.9 L825.0,282.0 L825.2,281.9 L825.4,281.8 L825.6,281.6 L825.8,281.4 L826.0,281.2 L826.2,281.0 L826.4,280.9 L826.6,280.8 L826.8,280.9 L827.0,281.1 L827.2,281.3 L827.4,281.5 L827.6,281.7 L827.8,281.9 L828.0,282.0 L828.2,281.9 L828.4,281.8 L828.6,281.6 L828.8,281.4 L829.0,281.2 L829.2,281.0 L829.4,280.9 L829.6,280.9 L829.8,280.9 L830.0,281.1 L830.2,281.3 L830.4,281.5 L830.6,281.7 L830.8,281.9 L831.0,282.0 L831.2,281.9 L831.4,281.8 L831.6,281.6 L831.8,281.4 L832.0,281.1 L832.2,281.0 L832.4,280.9 L832.6,280.9 L832.8,280.9 L833.0,281.1 L833.2,281.3 L833.4,281.5 L833.6,281.8 L833.8,281.9 L834.0,282.0 L834.2,281.9 L834.4,281.8 L834.6,281.6 L834.8,281.4 L835.0,281.1 L835.2,281.0 L835.4,280.9 L835.6,280.9 L835.8,280.9 L836.0,281.1 L836.2,281.3 L836.4,281.6 L836.6,281.8 L836.8,281.9 L837.0,282.0 L837.2,281.9 L837.4,281.8 L837.6,281.6 L837.8,281.4 L838.0,281.1 L838.2,281.0 L838.4,280.9 L838.6,280.9 L838.8,280.9 L839.0,281.1 L839.2,281.3 L839.4,281.6 L839.6,281.8 L839.8,281.9 L840.0,282.0 L840.2,281.9 L840.4,281.8 L840.6,281.6 L840.8,281.3 L841.0,281.1 L841.2,281.0 L841.4,280.9 L841.6,280.9 L841.8,281.0 L842.0,281.1 L842.2,281.3 L842.4,281.6 L842.6,281.8 L842.8,281.9 L843.0,282.0 L843.2,281.9 L843.4,281.8 L843.6,281.6 L843.8,281.3 L844.0,281.1 L844.2,280.9 L844.4,280.9 L844.6,280.9 L844.8,281.0 L845.0,281.1 L845.2,281.4 L845.4,281.6 L845.6,281.8 L845.8,281.9 L846.0,282.0 L846.2,281.9 L846.4,281.8 L846.6,281.6 L846.8,281.3 L847.0,281.1 L847.2,280.9 L847.4,280.9 L847.6,280.9 L847.8,281.0 L848.0,281.1 L848.2,281.4 L848.4,281.6 L848.6,281.8 L848.8,281.9 L849.0,282.0 L849.2,281.9 L849.4,281.8 L849.6,281.5 L849.8,281.3 L850.0,281.1 L850.2,280.9 L850.4,280.9 L850.6,280.9 L850.8,281.0 L851.0,281.2 L851.2,281.4 L851.4,281.6 L851.6,281.8 L851.8,281.9 L852.0,282.0 L852.2,281.9 L852.4,281.7 L852.6,281.5 L852.8,281.3 L853.0,281.1 L853.2,280.9 L853.4,280.9 L853.6,280.9 L853.8,281.0 L854.0,281.2 L854.2,281.4 L854.4,281.6 L854.6,281.8 L854.8,281.9 L855.0,282.0 L855.2,281.9 L855.4,281.7 L855.6,281.5 L855.8,281.3 L856.0,281.1 L856.2,280.9 L856.4,280.8 L856.6,280.9 L856.8,281.0 L857.0,281.2 L857.2,281.4 L857.4,281.6 L857.6,281.8 L857.8,281.9 L858.0,282.0 L858.2,281.9 L858.4,281.7 L858.6,281.5 L858.8,281.3 L859.0,281.1 L859.2,280.9 L859.4,280.8 L859.6,280.9 L859.8,281.0 L860.0,281.2 L860.2,281.4 L860.4,281.6 L860.6,281.8 L860.8,281.9 L861.0,282.0 L861.2,281.9 L861.4,281.7 L861.6,281.5 L861.8,281.3 L862.0,281.1 L862.2,280.9 L862.4,280.8 L862.6,280.9 L862.8,281.0 L863.0,281.2 L863.2,281.4 L863.4,281.6 L863.6,281.8 L863.8,281.9 L864.0,282.0 L864.2,281.9 L864.4,281.7 L864.6,281.5 L864.8,281.3 L865.0,281.1 L865.2,280.9 L865.4,280.8 L865.6,280.9 L865.8,281.0 L866.0,281.2 L866.2,281.4 L866.4,281.6 L866.6,281.7 L866.8,281.7 L867.0,281.6 L867.2,281.5 L867.4,281.4 L867.6,281.2 L867.8,281.1 L868.0,281.1 L868.2,281.1 L868.4,281.3 L868.6,281.5 L868.8,281.8 L869.0,282.1 L869.2,282.4 L869.4,282.5 L869.6,282.6 L869.8,282.4 L870.0,281.5 L870.2,281.2 L870.4,280.8 L870.6,280.4 L870.8,280.1 L871.0,279.9 L871.2,279.8 L871.4,279.9 L871.6,280.0 L871.8,280.4 L872.0,280.8 L872.2,281.4 L872.4,282.0 L872.6,282.5 L872.8,283.1 L873.0,283.5 L873.2,283.8 L873.4,283.9 L873.6,283.7 L873.8,283.3 L874.0,282.8 L874.2,282.0 L874.4,281.2 L874.6,280.3 L874.8,279.5 L875.0,278.8 L875.2,278.2 L875.4,278.0 L875.6,278.0 L875.8,278.3 L876.0,279.0 L876.2,279.8 L876.4,280.9 L876.6,282.0 L876.8,283.2 L877.0,284.2 L877.2,285.1 L877.4,285.6 L877.6,285.8 L877.8,285.7 L878.0,285.1 L878.2,284.2 L878.4,283.0 L878.6,281.6 L878.8,280.2 L879.0,278.8 L879.2,277.5 L879.4,276.6 L879.6,276.1 L879.8,276.0 L880.0,276.4 L880.2,277.2 L880.4,278.5 L880.6,280.0 L880.8,281.7 L881.0,283.4 L881.2,285.0 L881.4,286.3 L881.6,287.2 L881.8,287.6 L882.0,287.5 L882.2,286.9 L882.4,285.8 L882.6,284.2 L882.8,282.4 L883.0,280.5 L883.2,278.6 L883.4,276.9 L883.6,275.5 L883.8,274.7 L884.0,274.4 L884.2,274.7 L884.4,275.6 L884.6,277.0 L884.8,278.8 L885.0,280.9 L885.2,283.1 L885.4,285.2 L885.6,286.9 L885.8,288.3 L886.0,289.1 L886.2,289.2 L886.4,288.6 L886.6,287.4 L886.8,285.7 L887.0,283.6 L887.2,281.2 L887.4,278.8 L887.6,276.6 L887.8,274.8 L888.0,273.5 L888.2,272.8 L888.4,272.9 L888.6,273.8 L888.8,275.3 L889.0,277.3 L889.2,279.8 L889.4,282.4 L889.6,285.0 L889.8,287.3 L890.0,289.2 L890.2,290.3 L890.4,290.7 L890.6,290.4 L890.8,289.2 L891.0,287.4 L891.2,285.0 L891.4,282.3 L891.6,279.5 L891.8,276.8 L892.0,274.5 L892.2,272.8 L892.4,271.8 L892.6,271.6 L892.8,272.3 L893.0,273.7 L893.2,275.9 L893.4,278.5 L893.6,281.4 L893.8,284.3 L894.0,287.0 L894.2,289.3 L894.4,290.9 L894.6,291.7 L894.8,291.6 L895.0,290.6 L895.2,288.8 L895.4,286.4 L895.6,283.5 L895.8,280.5 L896.0,277.4 L896.2,274.7 L896.4,272.5 L896.6,271.1 L896.8,270.6 L897.0,271.0 L897.2,272.2 L897.4,274.3 L897.6,277.0 L897.8,280.1 L898.0,283.4 L898.2,286.5 L898.4,289.2 L898.6,291.2 L898.8,292.4 L899.0,292.7 L899.2,292.0 L899.4,290.4 L899.6,288.0 L899.8,285.0 L900.0,281.7 L900.2,278.5 L900.4,275.5 L900.6,273.1 L900.8,271.3 L901.0,270.3 L901.2,270.3 L901.4,271.1 L901.6,272.7 L901.8,275.0 L902.0,277.8 L902.2,280.8 L902.4,283.9 L902.6,286.7 L902.8,289.0 L903.0,290.7 L903.2,291.7 L903.4,291.8 L903.6,291.1 L903.8,289.7 L904.0,287.6 L904.2,285.0 L904.4,282.2 L904.6,279.4 L904.8,276.7 L905.0,274.5 L905.2,272.8 L905.4,271.9 L905.6,271.7 L905.8,272.3 L906.0,273.6 L906.2,275.5 L906.4,277.8 L906.6,280.4 L906.8,283.0 L907.0,285.5 L907.2,287.9 L907.4,290.0 L907.6,291.5 L907.8,292.3 L908.0,292.2 L908.2,291.2 L908.4,289.2 L908.6,286.5 L908.8,283.1 L909.0,279.4 L909.2,275.6 L909.4,272.1 L909.6,269.1 L909.8,267.0 L910.0,266.0 L910.2,266.2 L910.4,267.6 L910.6,270.3 L910.8,274.1 L911.0,278.6 L911.2,283.6 L911.4,288.6 L911.6,293.3 L911.8,297.2 L912.0,300.0 L912.2,301.3 L912.4,301.1 L912.6,299.3 L912.8,295.9 L913.0,291.2 L913.2,285.5 L913.4,279.3 L913.6,273.0 L913.8,267.1 L914.0,262.2 L914.2,258.6 L914.4,256.7 L914.6,256.8 L914.8,258.9 L915.0,262.9 L915.2,269.1 L915.4,276.7 L915.6,285.0 L915.8,293.3 L916.0,300.8 L916.2,306.7 L916.4,310.5 L916.6,311.6 L916.8,309.9 L917.0,305.5 L917.2,298.7 L917.4,290.0 L917.6,280.3 L917.8,270.3 L918.0,261.1 L918.2,253.5 L918.4,248.3 L918.6,246.1 L918.8,247.1 L919.0,251.3 L919.2,258.5 L919.4,268.1 L919.6,279.1 L919.8,290.2 L920.0,300.4 L920.2,308.8 L920.4,314.7 L920.6,317.4 L920.8,316.9 L921.0,313.1 L921.2,306.4 L921.4,297.4 L921.6,287.1 L921.8,276.3 L922.0,266.0 L922.2,257.2 L922.4,250.7 L922.6,247.0 L922.8,246.5 L923.0,249.2 L923.2,254.9 L923.4,262.9 L923.6,272.7 L923.8,283.0 L924.0,292.9 L924.2,301.6 L924.4,308.3 L924.6,312.3 L924.8,313.4 L925.0,311.6 L925.2,307.1 L925.4,300.3 L925.6,292.0 L925.8,282.9 L926.0,273.9 L926.2,265.8 L926.4,259.4 L926.6,255.1 L926.8,253.3 L927.0,254.2 L927.2,257.4 L927.4,262.8 L927.6,269.7 L927.8,277.5 L928.0,285.5 L928.2,292.9 L928.4,299.1 L928.6,303.5 L928.8,305.9 L929.0,305.9 L929.2,303.7 L929.4,299.5 L929.6,293.8 L929.8,287.1 L930.0,280.0 L930.2,273.3 L930.4,267.4 L930.6,263.0 L930.8,260.4 L931.0,259.7 L931.2,261.0 L931.4,264.2 L931.6,268.8 L931.8,274.4 L932.0,280.5 L932.2,286.5 L932.4,292.0 L932.6,296.4 L932.8,299.4 L933.0,300.7 L933.2,300.3 L933.4,298.1 L933.6,294.5 L933.8,289.7 L934.0,284.2 L934.2,278.5 L934.4,273.1 L934.6,268.6 L934.8,265.3 L935.0,263.5 L935.2,263.4 L935.4,264.9 L935.6,267.9 L935.8,272.1 L936.0,277.0 L936.2,282.3 L936.4,287.5 L936.6,292.0 L936.8,295.5 L937.0,297.6 L937.2,298.3 L937.4,297.4 L937.6,295.1 L937.8,291.5 L938.0,287.1 L938.2,282.2 L938.4,277.4 L938.6,272.9 L938.8,269.3 L939.0,266.9 L939.2,265.8 L939.4,266.1 L939.6,267.9 L939.8,270.8 L940.0,274.6 L940.2,279.0 L940.4,283.7 L940.6,288.2 L940.8,292.0 L941.0,295.0 L941.2,296.7 L941.4,297.0 L941.6,295.9 L941.8,293.4 L942.0,289.8 L942.2,285.5 L942.4,280.7 L942.6,275.9 L942.8,271.6 L943.0,268.2 L943.2,266.0 L943.4,265.2 L943.6,265.8 L943.8,267.9 L944.0,271.3 L944.2,275.6 L944.4,280.4 L944.6,285.4 L944.8,290.1 L945.0,294.0 L945.2,296.7 L945.4,298.1 L945.6,297.9 L945.8,296.3 L946.0,293.2 L946.2,289.1 L946.4,284.2 L946.6,279.0 L946.8,274.0 L947.0,269.7 L947.2,266.4 L947.4,264.4 L947.6,264.1 L947.8,265.3 L948.0,268.0 L948.2,271.9 L948.4,276.6 L948.6,282.1 L948.8,287.8 L949.0,293.3 L949.2,297.9 L949.4,301.1 L949.6,302.7 L949.8,302.4 L950.0,300.0 L950.2,295.8 L950.4,290.1 L950.6,283.3 L950.8,276.0 L951.0,268.9 L951.2,262.7 L951.4,257.9 L951.6,255.0 L951.8,254.5 L952.0,256.3 L952.2,260.6 L952.4,266.9 L952.6,274.8 L952.8,283.6 L953.0,292.5 L953.2,300.7 L953.4,307.4 L953.6,312.0 L953.8,313.9 L954.0,312.8 L954.2,308.9 L954.4,302.3 L954.6,293.8 L954.8,283.9 L955.0,273.7 L955.2,263.8 L955.4,255.4 L955.6,249.2 L955.8,245.7 L956.0,245.4 L956.2,248.3 L956.4,254.2 L956.6,262.7 L956.8,273.1 L957.0,284.4 L957.2,295.6 L957.4,305.8 L957.6,314.0 L957.8,319.4 L958.0,321.1 L958.2,319.2 L958.4,313.9 L958.6,305.8 L958.8,295.5 L959.0,284.1 L959.2,272.5 L959.4,261.8 L959.6,252.8 L959.8,246.5 L960.0,243.3 L960.2,243.5 L960.4,247.1 L960.6,253.6 L960.8,262.7 L961.0,273.3 L961.2,284.6 L961.4,295.5 L961.6,305.1 L961.8,312.5 L962.0,317.2 L962.2,318.6 L962.4,316.4 L962.6,310.8 L962.8,302.4 L963.0,292.0 L963.2,280.8 L963.4,269.8 L963.6,260.1 L963.8,252.5 L964.0,247.9 L964.2,246.5 L964.4,248.6 L964.6,253.8 L964.8,261.5 L965.0,271.1 L965.2,281.5 L965.4,291.7 L965.6,300.8 L965.8,307.9 L966.0,312.3 L966.2,314.0 L966.4,313.1 L966.6,308.9 L966.8,301.9 L967.0,292.6 L967.2,281.8 L967.4,270.6 L967.6,260.2 L967.8,251.4 L968.0,245.4 L968.2,242.7 L968.4,243.8 L968.6,248.7 L968.8,256.9 L969.0,267.8 L969.2,280.4 L969.4,293.4 L969.6,305.6 L969.8,315.8 L970.0,322.9 L970.2,326.1 L970.4,324.1 L970.6,317.7 L970.8,308.1 L971.0,296.1 L971.2,283.0 L971.4,270.2 L971.6,258.7 L971.8,249.8 L972.0,244.2 L972.2,242.3 L972.4,243.9 L972.6,248.6 L972.8,256.1 L973.0,265.4 L973.2,275.9 L973.4,286.5 L973.6,296.3 L973.8,304.5 L974.0,310.5 L974.2,313.8 L974.4,314.2 L974.6,311.7 L974.8,306.7 L975.0,299.7 L975.2,291.4 L975.4,282.5 L975.6,273.8 L975.8,266.1 L976.0,260.0 L976.2,256.0 L976.4,254.3 L976.6,255.0 L976.8,258.0 L977.0,262.8 L977.2,269.1 L977.4,276.1 L977.6,283.3 L977.8,290.0 L978.0,295.6 L978.2,299.8 L978.4,302.2 L978.6,302.7 L978.8,301.3 L979.0,298.3 L979.2,293.9 L979.4,288.8 L979.6,283.3 L979.8,277.9 L980.0,273.2 L980.2,269.5 L980.4,267.0 L980.6,265.9 L980.8,266.3 L981.0,267.9 L981.2,270.6 L981.4,273.7 L981.6,277.4 L981.8,281.6 L982.0,286.0 L982.2,290.3 L982.4,293.9 L982.6,296.6 L982.8,298.1 L983.0,298.1 L983.2,296.6 L983.4,293.7 L983.6,289.5 L983.8,284.5 L984.0,278.9 L984.2,273.4 L984.4,268.4 L984.6,264.3 L984.8,261.6 L985.0,260.6 L985.2,261.4 L985.4,264.0 L985.6,268.3 L985.8,273.8 L986.0,280.2 L986.2,287.0 L986.4,293.5 L986.6,299.1 L986.8,303.3 L987.0,305.7 L987.2,306.0 L987.4,304.2 L987.6,300.2 L987.8,294.5 L988.0,287.5 L988.2,279.7 L988.4,271.8 L988.6,264.6 L988.8,258.7 L989.0,254.6 L989.2,252.8 L989.4,253.5 L989.6,256.6 L989.8,262.1 L990.0,269.4 L990.2,277.6 L990.4,286.3 L990.6,294.8 L990.8,302.5 L991.0,308.5 L991.2,312.5 L991.4,314.0 L991.6,312.9 L991.8,309.1 L992.0,303.0 L992.2,295.0 L992.4,285.7 L992.6,275.8 L992.8,266.2 L993.0,257.6 L993.2,250.8 L993.4,246.4 L993.6,244.8 L993.8,246.1 L994.0,250.4 L994.2,257.3 L994.4,266.3 L994.6,276.7 L994.8,287.7 L995.0,298.4 L995.2,307.7 L995.4,314.6 L995.6,318.8 L995.8,320.0 L996.0,318.0 L996.2,313.0 L996.4,305.6 L996.6,296.3 L996.8,285.9 L997.0,275.2 L997.2,265.2 L997.4,256.5 L997.6,250.0 L997.8,246.1 L998.0,245.1 L998.2,247.0 L998.4,251.6 L998.6,258.7 L998.8,267.4 L999.0,277.2 L999.2,287.3 L999.4,296.7 L999.6,304.8 L999.8,310.9 L1000.0,314.6 L1000.2,315.5 L1000.4,313.7 L1000.6,309.3 L1000.8,302.6 L1001.0,294.4 L1001.2,285.2 L1001.4,275.9 L1001.6,267.2 L1001.8,259.8 L1002.0,254.3 L1002.2,251.0 L1002.4,250.3 L1002.6,252.1 L1002.8,256.2 L1003.0,262.3 L1003.2,269.7 L1003.4,278.0 L1003.6,286.4 L1003.8,294.2 L1004.0,300.9 L1004.2,305.8 L1004.4,308.7 L1004.6,309.3 L1004.8,307.6 L1005.0,303.7 L1005.2,298.1 L1005.4,291.4 L1005.6,284.1 L1005.8,276.9 L1006.0,270.3 L1006.2,264.9 L1006.4,261.1 L1006.6,259.1 L1006.8,258.9 L1007.0,260.7 L1007.2,264.0 L1007.4,268.6 L1007.6,274.0 L1007.8,279.8 L1008.0,285.4 L1008.2,290.4 L1008.4,294.4 L1008.6,297.1 L1008.8,298.5 L1009.0,298.3 L1009.2,296.8 L1009.4,294.1 L1009.6,290.5 L1009.8,286.5 L1010.0,282.2 L1010.2,278.2 L1010.4,274.3 L1010.6,270.6 L1010.8,267.6 L1011.0,265.6 L1011.2,264.8 L1011.4,265.4 L1011.6,267.5 L1011.8,270.9 L1012.0,275.4 L1012.2,280.7 L1012.4,286.4 L1012.6,292.1 L1012.8,297.1 L1013.0,301.0 L1013.2,303.5 L1013.4,304.2 L1013.6,303.0 L1013.8,299.9 L1014.0,295.0 L1014.2,288.8 L1014.4,281.7 L1014.6,274.2 L1014.8,267.0 L1015.0,260.7 L1015.2,255.9 L1015.4,253.0 L1015.6,252.5 L1015.8,254.5 L1016.0,259.0" fill="none" stroke="#d6a728" stroke-width="0.5" stroke-linejoin="round"/>
<rect x="786.8" y="233" width="44.6" height="19.2" fill="#fff" stroke="#d0d0d0" stroke-width="0.35" rx="0.6"/><path d="M788.8,238.1 h7.7" stroke="#3c3c3c" stroke-width="0.7"/><path d="M788.8,246.3 h7.7" stroke="#d6a728" stroke-width="0.7"/><text x="799.40" y="240.00" font-size="6.0" fill="#2e2e2e" textLength="7.2" lengthAdjust="spacingAndGlyphs">FEM</text><text x="799.40" y="248.20" font-size="6.0" fill="#2e2e2e" textLength="30.4" lengthAdjust="spacingAndGlyphs">Experimental P3</text>
</svg>
</body></html>
